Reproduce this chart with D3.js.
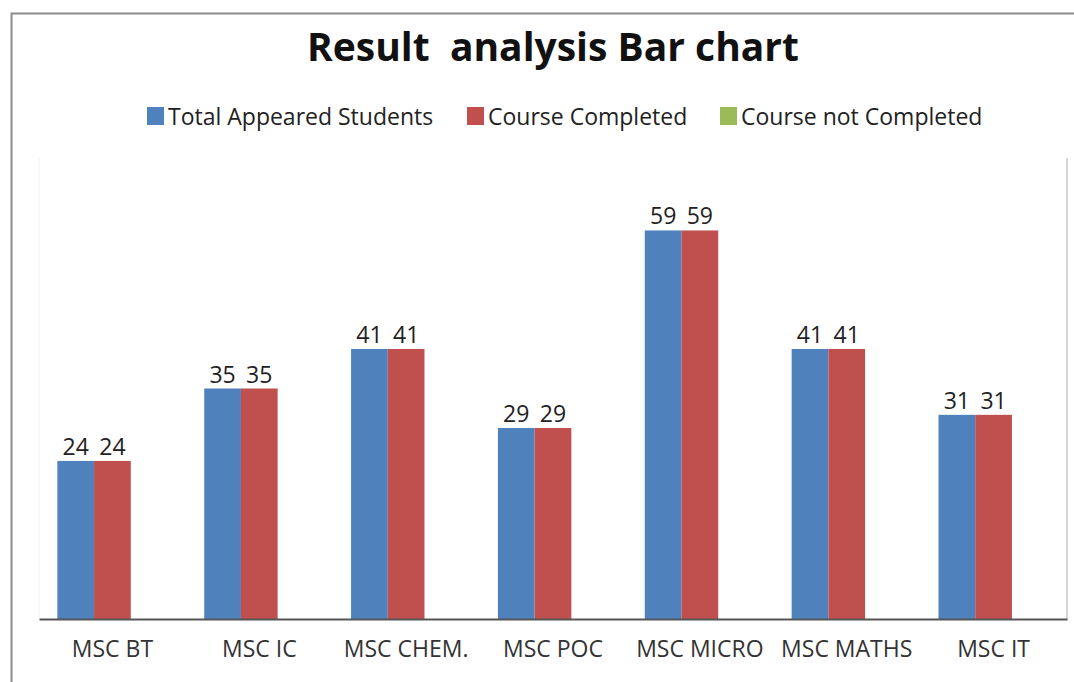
<!DOCTYPE html>
<html>
<head>
<meta charset="utf-8">
<script src="https://cdn.jsdelivr.net/npm/d3@7"></script>
<style>
  body { margin: 0; background: #fff; }
  text { font-family: "Open Sans", "Noto Sans", sans-serif; }
</style>
</head>
<body>
<div id="chart"></div>
<script>
////////////////////////////////////
////////////// data ////////////////
////////////////////////////////////

const courses = ['MSC BT', 'MSC IC', 'MSC CHEM.', 'MSC POC', 'MSC MICRO', 'MSC MATHS', 'MSC IT']
const seriesNames = ['Total Appeared Students', 'Course Completed', 'Course not Completed']
const appeared = [24, 35, 41, 29, 59, 41, 31]
const completed = [24, 35, 41, 29, 59, 41, 31]
const notCompleted = [0, 0, 0, 0, 0, 0, 0]
const seriesColors = ['#4F81BD', '#C0504D', '#9BBB59']

// rows for the grouped bars
const rows = courses.map((c, i) => ({
    course: c,
    values: [appeared[i], completed[i], notCompleted[i]]
}))

////////////////////////////////////
//////////// SVG Setup /////////////
////////////////////////////////////

const svgWidth = 1074
const svgHeight = 682

const margin = { left: 39, right: 7, top: 158, bottom: 63 }
const width = svgWidth - margin.left - margin.right
const height = svgHeight - margin.top - margin.bottom

const root = d3.select('#chart')
    .append('svg')
    .attr('width', svgWidth)
    .attr('height', svgHeight)

// outer chart border (only top/left visible in the picture)
root.append('path')
    .attr('d', 'M11.5,682 L11.5,13.5 L1074,13.5')
    .attr('fill', 'none')
    .attr('stroke', '#8c8c8c')
    .attr('stroke-width', 2)

// title
root.append('text')
    .attr('x', 553)
    .attr('y', 61)
    .attr('text-anchor', 'middle')
    .attr('font-size', 39)
    .attr('font-weight', 'bold')
    .attr('fill', '#111')
    .attr('xml:space', 'preserve')
    .style('white-space', 'pre')
    .text('Result  analysis Bar chart')

const svg = root.append('g')
    .attr('transform', 'translate(' + margin.left + ',' + margin.top + ')')

////////////////////////////////////
//////////////scales////////////////
////////////////////////////////////

const xScale = d3.scaleBand()
    .domain(courses)
    .range([0, width])

const yScale = d3.scaleLinear()
    .domain([0, 70])
    .range([height, 0])

////////////////////////////////////
/////////// plot frame /////////////
////////////////////////////////////

// faint right edge of plot area
svg.append('line')
    .attr('x1', width).attr('x2', width)
    .attr('y1', 0).attr('y2', height)
    .attr('stroke', '#c8c8c8')
    .attr('stroke-width', 1.5)

svg.append('line')
    .attr('x1', 0).attr('x2', 0)
    .attr('y1', 0).attr('y2', height)
    .attr('stroke', '#f2f2f2')

////////////////////////////////////
//////////////// bars //////////////
////////////////////////////////////

const groups = svg.selectAll('.group')
    .data(rows)
    .join('g')
    .attr('class', 'group')
    .attr('transform', d => 'translate(' + xScale(d.course) + ',0)')

// group of three bars, each a quarter of the band (gap = one bar width)
const barW = xScale.bandwidth() / 4
const barX = i => barW / 2 + i * barW

groups.selectAll('rect')
    .data(d => d.values.map((v, i) => ({ v, i })))
    .join('rect')
    .attr('x', d => barX(d.i))
    .attr('y', d => yScale(d.v))
    .attr('width', barW)
    .attr('height', d => height - yScale(d.v))
    .attr('fill', d => seriesColors[d.i])

groups.selectAll('.label')
    .data(d => d.values.map((v, i) => ({ v, i })).filter(d => d.v > 0))
    .join('text')
    .attr('class', 'label')
    .attr('x', d => barX(d.i) + barW / 2)
    .attr('y', d => yScale(d.v) - 6)
    .attr('text-anchor', 'middle')
    .attr('font-size', 23)
    .attr('fill', '#222')
    .text(d => d.v)

////////////////////////////////////
///////////////axis/////////////////
////////////////////////////////////

const xAxis = d3.axisBottom(xScale).tickSize(0).tickPadding(22)

const gx = svg.append('g')
    .attr('transform', 'translate(0,' + height + ')')
    .call(xAxis)

gx.select('.domain').attr('stroke', '#555').attr('stroke-width', 2)
gx.selectAll('text')
    .attr('font-size', 23)
    .attr('fill', '#333')
    .style('font-family', '"Open Sans", "Noto Sans", sans-serif')

////////////////////////////////////
////////////// legend //////////////
////////////////////////////////////

const legendX = [147, 467, 720]

const legend = root.selectAll('.legend')
    .data(seriesNames)
    .join('g')
    .attr('class', 'legend')
    .attr('transform', (d, i) => 'translate(' + legendX[i] + ',107)')

legend.append('rect')
    .attr('width', 17)
    .attr('height', 18)
    .attr('fill', (d, i) => seriesColors[i])

legend.append('text')
    .attr('x', 21)
    .attr('y', 18)
    .attr('font-size', 23)
    .attr('fill', '#222')
    .text(d => d)
</script>
</body>
</html>
